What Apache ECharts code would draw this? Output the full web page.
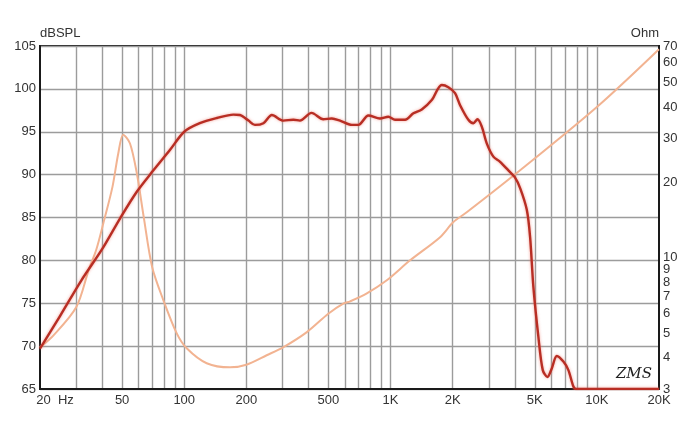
<!DOCTYPE html>
<html>
<head>
<meta charset="utf-8">
<script src="https://cdn.jsdelivr.net/npm/echarts@6/dist/echarts.min.js"></script>
<style>
html,body{margin:0;padding:0;background:#fff;}
#c{width:700px;height:424px;}
</style>
</head>
<body>
<div id="c"></div>
<script>
// Frequency response (dB SPL)
const splFreq = [20,25,31.8,40,48.9,58.9,70.9,85.4,100,119,144,173,186,205,220,242,266,302,338,364,414,472,519,569,649,698,781,889,976,1051,1176,1290,1417,1584,1771,1906,2054,2173,2383,2519,2638,2768,2926,3150,3395,3724,4000,4250,4574,4745,4923,5204,5467,5757,6045,6393,6882,7276,7693,7925,20000];
const splDb   = [69.7,73.5,77.7,81.3,84.9,88.0,90.5,92.9,95.0,96.0,96.6,97.0,96.95,96.3,95.8,96.0,96.95,96.3,96.4,96.3,97.2,96.45,96.55,96.3,95.8,95.8,96.9,96.55,96.75,96.4,96.4,97.15,97.6,98.7,100.45,100.2,99.5,98.1,96.4,96.0,96.45,95.6,93.65,92.1,91.5,90.5,89.7,88.4,85.9,82.75,76.9,71.1,67.2,66.4,67.4,68.85,68.2,67.2,65.3,65.0,65.0];
// Impedance (Ohm)
const impFreq = [20,23.2,30,34.5,37.5,40.6,44.9,47.9,50.6,54.6,58.9,63.6,69.9,79.2,92,102.8,128.5,166.7,200,251,303,393,499,590,637,764,959,1243,1738,2016,2340,4000,10000,20000];
const impOhm  = [4.4,4.9,6.37,9.0,10.8,13.8,19.2,26.1,31.0,28.6,21.8,14.6,9.2,6.79,5.0,4.36,3.80,3.66,3.75,4.09,4.41,5.06,5.99,6.57,6.71,7.2,8.14,9.78,12.1,13.9,15.2,21.5,40,68];
// Axes
const xLabelValues = [20,50,100,200,500,1000,2000,5000,10000,20000];
const xLabelTexts  = ['20  Hz','50','100','200','500','1K','2K','5K','10K','20K'];
const xGridValues  = [30,40,50,60,70,80,90,100,200,300,400,500,600,700,800,900,1000,2000,3000,4000,5000,6000,7000,8000,9000,10000];
const ohmLabelValues = [3,4,5,6,7,8,9,10,20,30,40,50,60,70];
const dbMin = 65, dbMax = 105, dbStep = 5;

const FONT = '"Liberation Sans", Arial, sans-serif';
const chart = echarts.init(document.getElementById('c'), null, {renderer:'canvas'});
const zip = (a,b) => a.map((v,i)=>[v,b[i]]);

chart.setOption({
  animation:false,
  backgroundColor:'#ffffff',
  grid:{left:40,right:41,top:46,bottom:35,show:true,borderColor:'#1a1a1a',borderWidth:2,backgroundColor:'transparent',outerBoundsMode:'none'},
  xAxis:{
    type:'log', logBase:10, min:20, max:20000,
    axisLine:{show:true,lineStyle:{color:'#1a1a1a',width:2}},
    axisTick:{show:false, customValues:xGridValues},
    splitLine:{show:true,lineStyle:{color:'#9c9c9c',width:1.4}},
    axisLabel:{
      customValues:xLabelValues, color:'#333', fontSize:13, fontFamily:FONT, margin:5,
      formatter:(v)=>{ const i = xLabelValues.findIndex(x=>Math.abs(x-v)/x<1e-6); const t = i>=0?xLabelTexts[i]:''; return i===0?('{p|}'+t):t; },
      rich:{p:{width:30}}
    }
  },
  yAxis:[{
    type:'value', min:dbMin, max:dbMax, interval:dbStep, position:'left',
    name:'dBSPL', nameLocation:'end', nameGap:5,
    nameTextStyle:{color:'#333',fontSize:13,fontFamily:FONT,align:'left',verticalAlign:'bottom'},
    axisLine:{show:true,lineStyle:{color:'#1a1a1a',width:2}},
    axisTick:{show:false},
    splitLine:{show:true,lineStyle:{color:'#9c9c9c',width:1.4}},
    axisLabel:{color:'#333',fontSize:13,fontFamily:FONT,margin:4}
  },{
    type:'log', logBase:10, min:3, max:70, position:'right',
    name:'Ohm', nameLocation:'end', nameGap:5,
    nameTextStyle:{color:'#333',fontSize:13,fontFamily:FONT,align:'right',verticalAlign:'bottom'},
    axisLine:{show:true,lineStyle:{color:'#1a1a1a',width:2}},
    axisTick:{show:false},
    splitLine:{show:false},
    axisLabel:{customValues:ohmLabelValues,color:'#333',fontSize:13,fontFamily:FONT,margin:4}
  }],
  series:[{
    name:'Impedance', type:'line', yAxisIndex:1, smooth:0.3, symbol:'none',
    data:zip(impFreq,impOhm),
    lineStyle:{color:'#f2b391',width:2}
  },{
    name:'SPL', type:'line', yAxisIndex:0, smooth:0.3, symbol:'none',
    data:zip(splFreq,splDb),
    lineStyle:{color:'#b82e24',width:2.4,shadowColor:'rgba(240,120,105,0.7)',shadowBlur:3}
  }],
  graphic:[{
    type:'text', right:48, bottom:42,
    style:{text:'ZMS',fill:'#222',font:'italic 15px "DejaVu Serif", serif'}
  }]
});
</script>
</body>
</html>
